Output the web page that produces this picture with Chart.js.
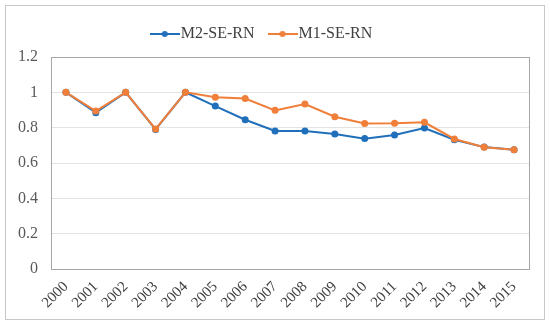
<!DOCTYPE html>
<html>
<head>
<meta charset="utf-8">
<script src="https://cdn.jsdelivr.net/npm/chart.js@4"></script>
<style>
  html, body { margin: 0; padding: 0; background: #fff; }
  #wrap { width: 550px; height: 325px; }
</style>
</head>
<body>
<div id="wrap"><canvas id="chart" width="550" height="325"></canvas></div>
<script>
const years = ['2000','2001','2002','2003','2004','2005','2006','2007','2008','2009','2010','2011','2012','2013','2014','2015'];
const m2Values = [1.0, 0.885, 1.0, 0.79, 1.0, 0.922, 0.845, 0.781, 0.781, 0.764, 0.738, 0.758, 0.798, 0.732, 0.69, 0.675];
const m1Values = [1.0, 0.894, 1.0, 0.792, 1.0, 0.972, 0.965, 0.898, 0.934, 0.862, 0.824, 0.825, 0.83, 0.736, 0.689, 0.675];

const BLUE = '#1f6fba';
const ORANGE = '#f07f3a';
const FONT = "'Liberation Serif', 'Times New Roman', serif";

// legend marker: short line with a dot in the middle
function legendIcon(color) {
    const c = document.createElement('canvas');
    c.width = 30; c.height = 10;
    const g = c.getContext('2d');
    g.strokeStyle = color; g.lineWidth = 2;
    g.beginPath(); g.moveTo(0, 5); g.lineTo(30, 5); g.stroke();
    g.fillStyle = color;
    g.beginPath(); g.arc(15, 5, 3, 0, Math.PI * 2); g.fill();
    return c;
}

// plot area box + outer frame
const frames = {
    id: 'frames',
    afterInit(chart) {
        // leave some extra room under the legend
        const lg = chart.legend;
        const fit = lg.fit;
        lg.fit = function () { fit.call(this); this.height += 5; };
    },
    afterDraw(chart) {
        const { ctx, chartArea: a } = chart;
        ctx.save();
        ctx.strokeStyle = '#a6a6a6';
        ctx.lineWidth = 1;
        ctx.strokeRect(Math.round(a.left) + 0.5, Math.round(a.top) + 0.5,
            Math.round(a.right - a.left), Math.round(a.bottom - a.top));
        ctx.strokeStyle = '#c8c8c8';
        ctx.strokeRect(5.5, 5.5, 539, 314);
        ctx.restore();
    }
};

new Chart(document.getElementById('chart'), {
    type: 'line',
    data: {
        labels: years,
        datasets: [{
            label: 'M2-SE-RN',
            data: m2Values,
            borderColor: BLUE,
            backgroundColor: BLUE,
            borderWidth: 2,
            pointRadius: 3.5,
            pointBackgroundColor: BLUE,
            pointBorderWidth: 0,
            tension: 0,
            order: 1
        }, {
            label: 'M1-SE-RN',
            data: m1Values,
            borderColor: ORANGE,
            backgroundColor: ORANGE,
            borderWidth: 2,
            pointRadius: 3.5,
            pointBackgroundColor: ORANGE,
            pointBorderWidth: 0,
            tension: 0,
            order: 0
        }]
    },
    options: {
        responsive: false,
        animation: false,
        layout: { padding: { left: 0, right: 21, top: 6, bottom: 0 } },
        plugins: {
            legend: {
                position: 'top',
                labels: {
                    font: { family: FONT, size: 16 },
                    color: '#404040',
                    usePointStyle: true,
                    boxWidth: 30,
                    boxHeight: 10,
                    padding: 20,
                    sort: (a, b) => a.datasetIndex - b.datasetIndex,
                    generateLabels: (chart) => chart.data.datasets.map((ds, i) => ({
                        text: ds.label,
                        pointStyle: legendIcon(ds.borderColor),
                        fillStyle: ds.borderColor,
                        strokeStyle: ds.borderColor,
                        lineWidth: 0,
                        fontColor: '#404040',
                        datasetIndex: i
                    }))
                }
            },
            tooltip: { enabled: false }
        },
        scales: {
            x: {
                offset: true,
                grid: { display: false, drawTicks: false },
                border: { display: false },
                ticks: {
                    minRotation: 45,
                    maxRotation: 45,
                    padding: 9,
                    color: '#404040',
                    font: { family: FONT, size: 15 }
                },
                afterFit: (s) => { s.height = 56; }
            },
            y: {
                min: 0,
                max: 1.2,
                ticks: {
                    stepSize: 0.2,
                    padding: 13,
                    color: '#595959',
                    font: { family: FONT, size: 16 },
                    callback: (v) => Math.round(v * 10) / 10
                },
                grid: { color: '#e3e3e3', drawTicks: false },
                border: { display: false },
                afterFit: (s) => { s.width = 51; }
            }
        }
    },
    plugins: [frames]
});
</script>
</body>
</html>
